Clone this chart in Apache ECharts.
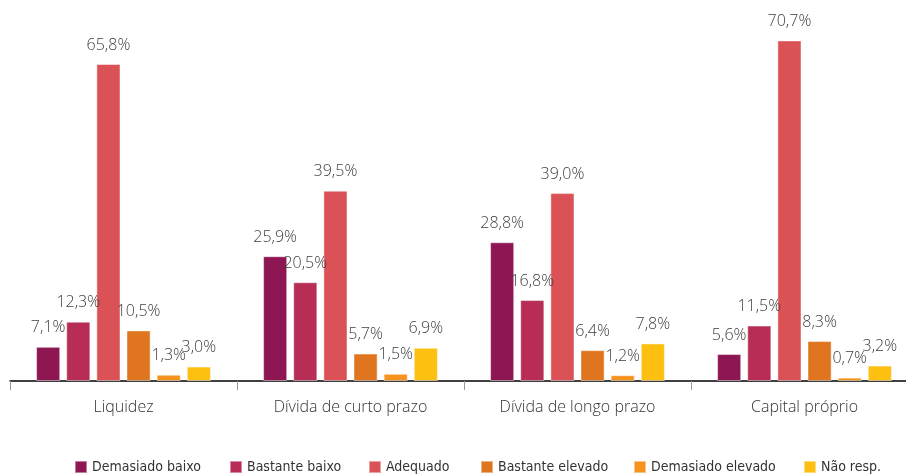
<!DOCTYPE html>
<html>
<head>
<meta charset="utf-8">
<script src="https://cdn.jsdelivr.net/npm/echarts@6/dist/echarts.min.js"></script>
<style>
  html, body { margin: 0; padding: 0; background: #ffffff; }
  #chart { width: 906px; height: 475px; }
</style>
</head>
<body>
<div id="chart"></div>
<script>
// Avaliação das condições de financiamento, por componente (% de respostas)
const categories = ['Liquidez', 'Dívida de curto prazo', 'Dívida de longo prazo', 'Capital próprio'];

const seriesNames = ['Demasiado baixo', 'Bastante baixo', 'Adequado', 'Bastante elevado', 'Demasiado elevado', 'Não resp.'];

const demasiadoBaixo   = [7.1, 25.9, 28.8, 5.6];
const bastanteBaixo    = [12.3, 20.5, 16.8, 11.5];
const adequado         = [65.8, 39.5, 39.0, 70.7];
const bastanteElevado  = [10.5, 5.7, 6.4, 8.3];
const demasiadoElevado = [1.3, 1.5, 1.2, 0.7];
const naoResp          = [3.0, 6.9, 7.8, 3.2];

const seriesValues = [demasiadoBaixo, bastanteBaixo, adequado, bastanteElevado, demasiadoElevado, naoResp];
const palette = ['#8E1753', '#B82D56', '#DA5256', '#E0751F', '#F6921E', '#FDC011'];

// left edge of each legend entry
const legendLeft = [74, 229, 368, 480, 633, 803];

const chart = echarts.init(document.getElementById('chart'), null, { renderer: 'canvas' });

const fmt = v => v.toFixed(1).replace('.', ',') + '%';

chart.setOption({
  animation: false,
  color: palette,
  textStyle: { fontFamily: 'Open Sans' },
  // the plot area runs a little past the right edge of the canvas
  grid: { left: 10, right: -12, top: 19.7, bottom: 94, containLabel: false, outerBoundsMode: 'none' },
  legend: seriesNames.map((name, i) => ({
    top: 460,
    left: legendLeft[i],
    padding: 0,
    itemWidth: 12,
    itemHeight: 12,
    itemGap: 0,
    icon: 'rect',
    textStyle: {
      fontFamily: "'DejaVu Sans Condensed', 'Open Sans'",
      fontSize: 14,
      color: '#333333',
      padding: [0, 0, 0, 0]
    },
    data: [name]
  })),
  xAxis: {
    type: 'category',
    data: categories,
    axisLine: { lineStyle: { color: '#000000', width: 1.5 } },
    axisTick: { show: true, length: 9, lineStyle: { color: '#999999' } },
    axisLabel: { fontFamily: 'Open Sans', fontWeight: 300, fontSize: 16, color: '#333333', margin: 18 }
  },
  yAxis: {
    type: 'value',
    min: 0,
    max: 75,
    show: false,
    splitLine: { show: false }
  },
  series: seriesNames.map((name, i) => ({
    name: name,
    type: 'bar',
    data: seriesValues[i],
    barGap: '25%',
    barCategoryGap: '23%',
    itemStyle: { borderColor: 'rgba(255,255,255,0.45)', borderWidth: 1 },
    label: {
      show: true,
      position: 'top',
      distance: 11,
      fontFamily: 'Open Sans',
      fontWeight: 300,
      fontSize: 16,
      color: '#404040',
      formatter: p => fmt(p.value)
    }
  }))
});
</script>
</body>
</html>
